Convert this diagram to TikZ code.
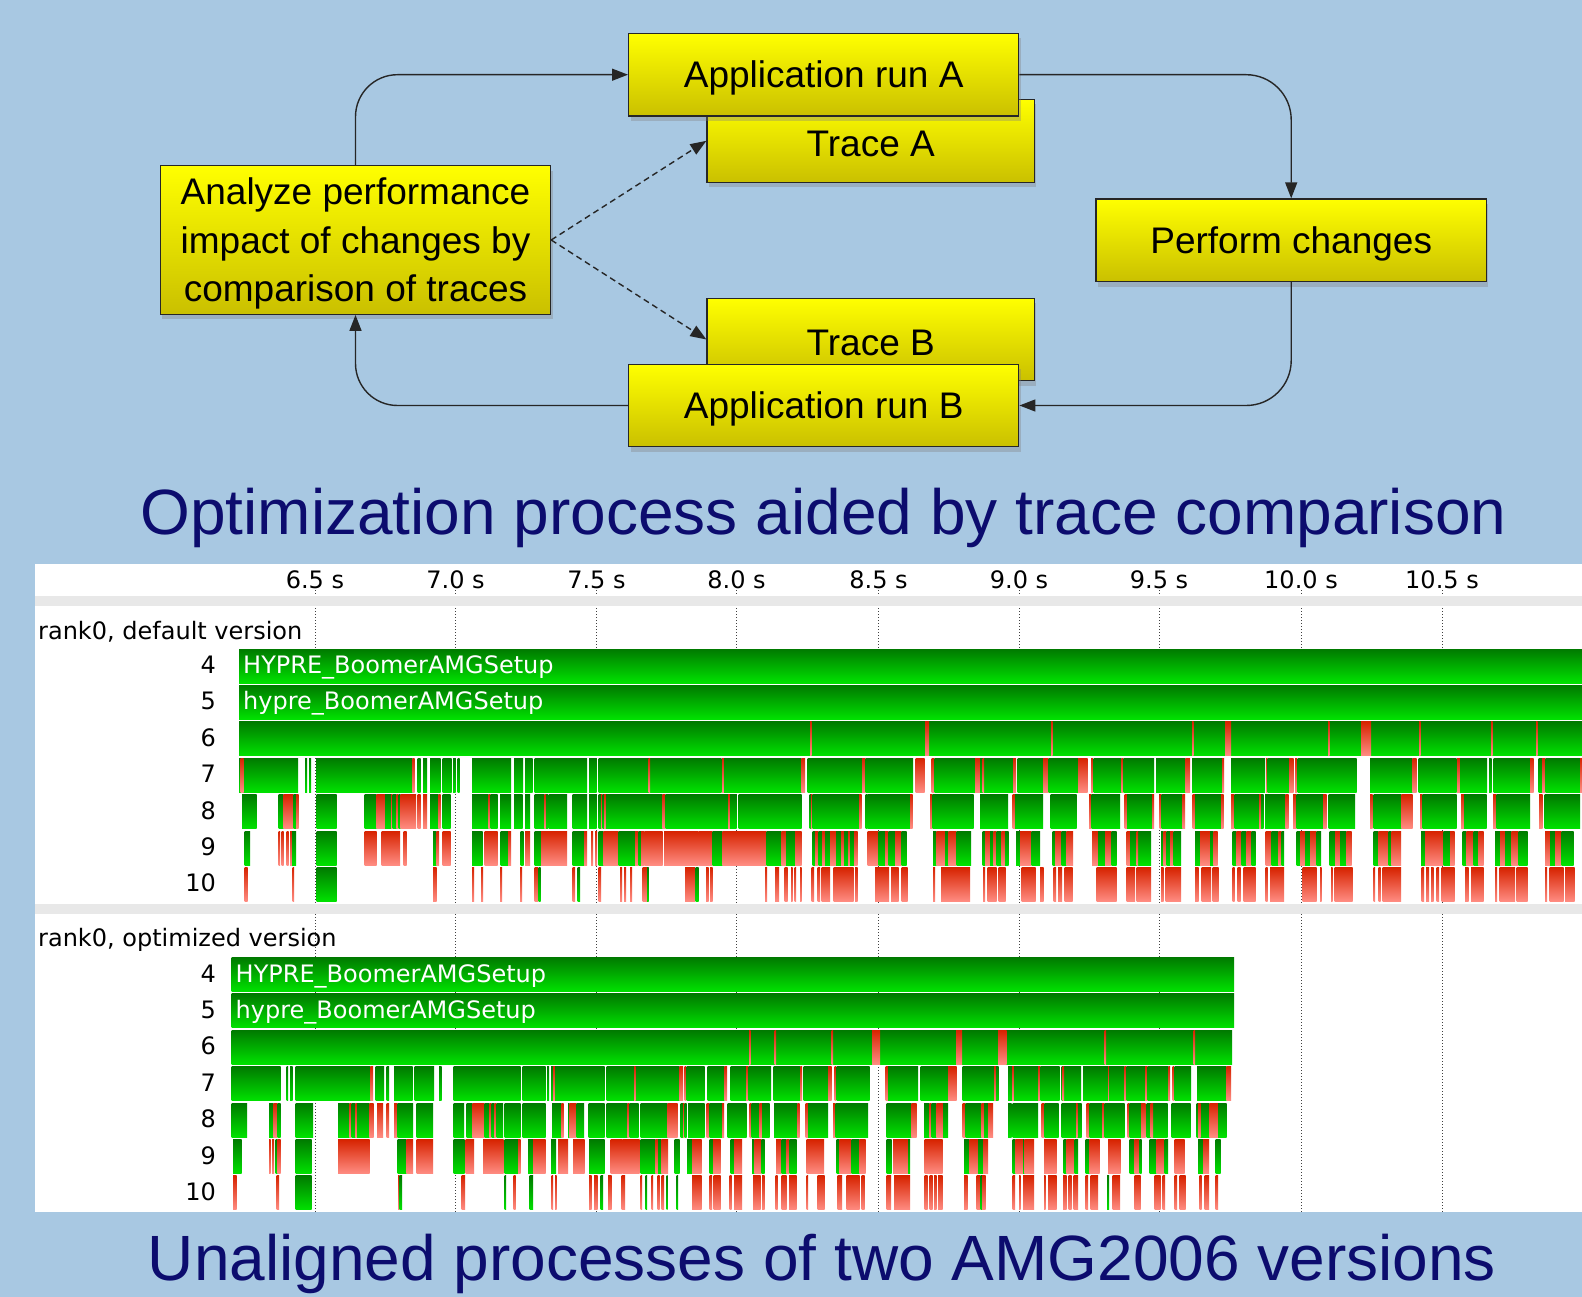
\documentclass[tikz,border=0pt]{standalone}
\usepackage{fontspec}
\newfontfamily\bfnt{Liberation Sans}
\newfontfamily\tfnt{DejaVu Sans}
\usetikzlibrary{arrows.meta,shadows}
\definecolor{bgc}{RGB}{168,200,226}
\definecolor{ttl}{RGB}{12,12,110}
\definecolor{yT}{RGB}{255,255,0}
\definecolor{yB}{RGB}{202,192,0}
\definecolor{gT}{RGB}{0,122,0}
\definecolor{gB}{RGB}{0,226,0}
\definecolor{rT}{RGB}{215,35,0}
\definecolor{rB}{RGB}{255,140,130}
\definecolor{band}{RGB}{232,232,232}
\newcommand\barrow[2]{\foreach \xa/\xb/\cc in {#2}{\shade[top color=\cc T,bottom color=\cc B] (\xa,#1) rectangle (\xb,#1+34);}}
\newcommand\lowr[1]{\raisebox{-3.5pt}[\height][\depth]{#1}}
\tikzset{
  ybox/.style={draw=black!85,line width=1.2pt,top color=yT,bottom color=yB,inner sep=0pt,align=center,
    font=\bfnt\fontsize{37}{48.5}\selectfont,drop shadow={shadow xshift=2pt,shadow yshift=-5pt,opacity=0.35}},
  conn/.style={draw=black!85,line width=1.4pt,-{Triangle[length=16pt,width=12pt]}},
  dconn/.style={conn,dash pattern=on 6pt off 4pt},
  ttlfont/.style={text=ttl,font=\bfnt\fontsize{64}{70}\selectfont,inner sep=0pt},
  trl/.style={font=\tfnt\fontsize{24}{26}\selectfont,inner sep=0pt},
  tick/.style={black!75,line width=1pt,dash pattern=on 1pt off 2pt}
}
\begin{document}
\begin{tikzpicture}[x=1pt,y=-1pt]
\useasboundingbox (0,0) rectangle (1582,1297);
\fill[bgc] (0,0) rectangle (1582,1297);
% ---------------- diagram
\node[ybox,minimum width=327.4pt,minimum height=83pt] (trA) at (870.7,140.8) {\lowr{Trace A}};
\node[ybox,minimum width=390.2pt,minimum height=82.7pt] (appA) at (823.7,74.7) {\lowr{Application run A}};
\node[ybox,minimum width=327.4pt,minimum height=82.4pt] (trB) at (870.7,339.5) {\lowr{Trace B}};
\node[ybox,minimum width=390.2pt,minimum height=82.4pt] (appB) at (823.7,405.5) {\lowr{Application run B}};
\node[ybox,minimum width=390.5pt,minimum height=82.7pt] (pc) at (1291.2,240.3) {\lowr{Perform changes}};
\node[ybox,minimum width=390.2pt,minimum height=148.6pt] (an) at (355.5,240) {\lowr{\begin{tabular}{@{}c@{}}Analyze performance\\impact of changes by\\comparison of traces\end{tabular}}};
\draw[conn,rounded corners=42pt] (an.north) |- (appA.west);
\draw[conn,rounded corners=45pt] (appA.east) -| (pc.north);
\draw[conn,rounded corners=45pt] (pc.south) |- (appB.east);
\draw[conn,rounded corners=42pt] (appB.west) -| (an.south);
\draw[dconn] (an.east) -- (trA.west);
\draw[dconn] (an.east) -- (trB.west);
\node[ttlfont] (t1) at (823.5,518) {Optimization process aided by trace comparison};
\node[ttlfont] (t2) at (822,1264) {Unaligned processes of two AMG2006 versions};
% ---------------- trace panel
\fill[white] (34.6,564) rectangle (1582,1212);
\foreach \x in {315,455.6,596.4,736.5,878.6,1019,1159,1301,1442}{\draw[tick] (\x,590) -- (\x,1212);}
\fill[band] (34.6,596) rectangle (1582,606);
\fill[band] (34.6,904) rectangle (1582,914);
\foreach \x/\t in {315/6.5,455.6/7.0,596.4/7.5,736.5/8.0,878.6/8.5,1019/9.0,1159/9.5,1301/10.0,1442/10.5}{\node[trl] at (\x,580) {\t\ s};}
\node[trl,anchor=base west] (lab1) at (38,639) {rank0, default version};
\node[trl,anchor=base west] (lab2) at (38,946.5) {rank0, optimized version};
\foreach \r/\tp in {4/649,5/685.4,6/721.8,7/758.2,8/794.6,9/831,10/867.4}{\node[trl,anchor=base east] at (216,\tp+24.5) {\r};}
\foreach \r/\tp in {4/957.5,5/993.9,6/1030.3,7/1066.7,8/1103.1,9/1139.5,10/1175.9}{\node[trl,anchor=base east] at (216,\tp+24.5) {\r};}
% default version
\barrow{649}{239/1582/g}
\barrow{685.4}{239/1582/g}
\node[trl,text=white,anchor=base west] at (243,673.5) {HYPRE\_BoomerAMGSetup};
\node[trl,text=white,anchor=base west] at (243,709.9) {hypre\_BoomerAMGSetup};
\barrow{721.8}{239/1582/g,810/811.5/r,925/929/r,1051/1052.5/r,1192/1193.5/r,1225/1231/r,1328/1329.5/r,1361/1371/r,1419/1420.5/r,1491/1492.5/r,1536/1537.5/r}
\barrow{758.2}{239/298/g,240.5/243.5/r,305/307/g,309/311/g,316/412.5/g,412.5/414.5/r,417.5/420.5/g,423/427/g,430/440.5/g,442.5/451.5/g,453/455.5/g,457.5/459.5/g,472/511/g,514/523/g,525/532.5/g,534.5/587/g,589/596.5/g,598.5/721.5/g,648.5/650/r,722/724/r,724/801.5/g,801.5/805/r,807.5/862/g,862/865.5/r,865.5/913/g,915.5/924.5/r,931.5/934.5/r,934.5/975/g,975/980/r,980/1013/g,982.5/984/r,1013/1016/r,1017.5/1043/g,1043/1048.5/r,1048.5/1078/g,1078/1087.5/r,1091/1093/r,1093.5/1121.5/g,1121.5/1123.5/r,1123.5/1154/g,1156/1185.5/g,1185.5/1190/r,1192/1222/g,1222/1224/r,1231/1265/g,1266/1267.5/r,1267.5/1289/g,1289/1293.5/r,1295/1297/r,1297.5/1356.5/g,1370/1412.5/g,1412.5/1416.5/r,1418.5/1456.5/g,1457/1460/r,1460/1487/g,1489/1491.5/g,1493.5/1530/g,1530/1533.5/r,1538.5/1542/g,1542/1545.5/r,1545.5/1580/g,1580/1582/r}
\barrow{794.6}{242/256.5/g,278.5/283.5/g,283.5/293.5/r,293.5/296/g,296/298.5/r,316.5/336.5/g,364.5/376.5/g,376.5/385/r,385/391/g,391/392.5/r,392.5/396.5/g,396.5/398.5/r,398.5/400.5/g,400.5/416/r,417.5/420.5/r,423/427/r,430/438.5/g,438.5/440.5/r,442.5/450.5/g,472/488.5/g,488.5/490.5/r,490.5/497.5/g,500/511/g,514/522.5/g,525/530/g,534.5/544.5/g,544.5/546/r,546/548/g,548.5/567/g,572.5/587/g,589/596.5/g,598.5/601/g,601/602.5/r,602.5/604/g,604/606/r,606/662.5/g,662.5/665.5/r,665.5/728/g,728/730/r,730/736.5/g,738.5/801.5/g,809.5/811.5/g,811/812.5/r,812.5/859/g,859/861.5/r,865.5/867.5/g,867.5/910/g,910/912.5/r,930/932.5/r,932.5/973.5/g,980/1008/g,1012.5/1015/r,1015/1043/g,1050.5/1076.5/g,1089/1091.5/r,1091.5/1120/g,1124.5/1127/r,1127/1152/g,1152/1154/r,1159.5/1161.5/r,1161.5/1182.5/g,1182.5/1185/r,1192.5/1195/r,1195/1221/g,1221/1223.5/r,1231/1234.5/r,1234.5/1259/g,1259/1261/r,1261/1263.5/g,1265/1285.5/g,1285.5/1288.5/r,1293/1296.5/r,1296.5/1323/g,1323/1326.5/r,1328.5/1355/g,1370/1372.5/r,1373.5/1401.5/g,1401.5/1412.5/r,1420/1422.5/r,1422.5/1456.5/g,1461/1464/r,1464/1486.5/g,1493/1496.5/r,1496.5/1530/g,1539/1542.5/r,1544.5/1580/g}
\barrow{831}{244.5/250/g,278.5/280/r,281.5/283.5/r,286.5/288.5/r,290/292/r,292/296/g,316.5/336.5/g,364.5/376.5/r,381.5/400/r,403.5/406.5/r,433/436.5/g,436.5/439/r,442.5/450.5/r,472/482.5/g,484.5/497.5/r,500.5/508/g,508/511/r,520.5/523.5/g,525/530/r,534.5/541/g,541/567/r,572.5/584/g,584/587/r,591/593/r,595/597/r,598.5/603.5/g,603.5/618.5/r,618.5/635/g,635/638.5/r,638.5/641/g,641/644.5/r,644.5/662.5/r,664/698.5/r,698.5/712.5/r,712.5/722.5/g,722.5/766.5/r,766.5/781.5/g,781.5/786/r,786/795/g,795/801.5/r,812.5/815/g,815/818.5/r,818.5/822/g,822/825/r,825/830/g,830/836/r,836/841/g,841/844/r,844/848/g,848/850/r,850/854/g,854/857.5/r,867.5/878.5/r,878.5/885/g,885/888.5/r,888.5/895/g,895/901.5/r,901.5/906.5/g,933/936.5/g,936.5/945/r,945/948.5/g,948.5/956.5/r,956.5/971/g,982.5/985/g,985/990/r,990/993.5/g,993.5/996.5/r,996.5/1001.5/g,1001.5/1005/r,1005/1008.5/g,1016/1020/g,1020/1031.5/r,1031.5/1040/g,1052.5/1055/g,1055/1061.5/r,1061.5/1066.5/g,1066.5/1073/r,1092/1098/r,1098/1105/g,1105/1111.5/r,1111.5/1116.5/g,1126.5/1130/r,1130/1135/g,1135/1151/g,1136.5/1138/r,1161/1163.5/g,1163.5/1166.5/r,1166.5/1170/g,1170/1173.5/r,1173.5/1181/g,1195/1200/g,1200/1210/r,1210/1213.5/g,1213.5/1217.5/r,1232.5/1236.5/g,1236.5/1241.5/r,1241.5/1246.5/g,1246.5/1251.5/r,1251.5/1255.5/g,1265.5/1271.5/r,1271.5/1278.5/g,1278.5/1281.5/r,1281.5/1284/g,1296.5/1300/g,1300/1305/r,1305/1310/g,1310/1316.5/r,1316.5/1321/g,1329.5/1335/g,1335/1340/r,1340/1346.5/g,1346.5/1351.5/r,1373.5/1378.5/g,1378.5/1388.5/r,1388.5/1391.5/g,1391.5/1401/r,1421/1425/g,1425/1443.5/r,1443.5/1450/g,1450/1454.5/r,1462.5/1466.5/g,1466.5/1473.5/r,1473.5/1478.5/g,1478.5/1483.5/r,1495/1500/g,1500/1505/r,1505/1511.5/g,1511.5/1518.5/r,1518.5/1527.5/g,1545/1550/r,1550/1555/g,1555/1561.5/r,1561.5/1573.5/g}
\barrow{867.4}{244.5/247.5/r,292.5/294/r,316.5/336.5/g,433/436.5/r,472/474/r,481/483/r,500/502/r,520/522/r,534.5/538/r,538.5/540.5/g,572.5/575/r,577.5/580/g,598.5/601/r,620/622/r,624/626/r,630/632/r,642.5/648.5/r,647/648.5/g,685/695/r,695.5/698.5/g,706/708.5/r,710/712.5/r,765/767/r,775/779/r,784.5/787.5/r,791/792.5/r,794.5/796/r,800/801.5/r,811.5/814/r,817.5/820/r,821.5/830/r,833.5/853.5/r,855/857.5/r,875/889/r,891/898.5/r,901.5/907.5/r,933/935/r,941/970/r,983/985/r,987.5/996.5/r,998.5/1005.5/r,1021.5/1035.5/r,1040/1043.5/r,1053.5/1056/r,1058/1062/r,1064.5/1072.5/r,1096.5/1116.5/r,1126.5/1135/r,1136.5/1151/r,1161/1163.5/r,1165.5/1181/r,1195/1198.5/r,1201.5/1211/r,1212.5/1218.5/r,1232.5/1234.5/r,1237.5/1240.5/r,1243.5/1255.5/r,1265.5/1267.5/r,1270/1284/r,1302.5/1316.5/r,1320/1321.5/r,1331/1332.5/r,1334.5/1352.5/r,1373.5/1375/r,1378.5/1380.5/r,1382.5/1401/r,1421.5/1424/r,1426/1429/r,1431/1433.5/r,1436.5/1439/r,1441.5/1454.5/r,1465/1468.5/r,1471/1483.5/r,1495/1497/r,1499.5/1515/r,1516.5/1527.5/r,1545/1547/r,1549.5/1563.5/r,1565/1574.5/r}
% optimized version
\barrow{957.5}{231.5/1234/g}
\barrow{993.9}{231.5/1234/g}
\node[trl,text=white,anchor=base west] at (235.5,982) {HYPRE\_BoomerAMGSetup};
\node[trl,text=white,anchor=base west] at (235.5,1018.4) {hypre\_BoomerAMGSetup};
\barrow{1030.3}{231.5/1232/g,749/750.5/r,774.5/776/r,831.5/833/r,872/880/r,956/962/r,998/1006.5/r,1104.5/1106/r,1193.5/1195/r}
\barrow{1066.7}{231.5/280.5/g,286.5/288/g,290/292.5/g,295.5/370.5/g,370.5/373/r,375.5/384/g,386.5/389/g,394/412.5/g,414.5/434/g,439/441.5/g,453.5/520.5/g,522.5/545.5/g,547/549/g,551/553/g,553/555/r,555/604.5/g,606.5/679.5/g,634/635.5/r,679.5/683/r,684.5/686/r,686.5/704.5/g,707.5/724.5/g,724.5/727/r,730.5/746/g,746/748.5/r,748.5/771/g,773.5/800.5/g,800.5/802/r,803.5/828/g,828/831.5/r,834.5/836/r,836.5/869.5/g,885.5/888/r,888/918/g,920.5/948/g,948/956.5/r,962.5/994/g,994/996/r,996/998.5/g,1008/1012/g,1012/1014/r,1014/1038/g,1038/1040.5/r,1040.5/1059.5/g,1061.5/1081/g,1062.5/1064/r,1083/1108/g,1108/1109/r,1109/1124.5/g,1124.5/1126.5/r,1126.5/1145/g,1145/1147.5/r,1147.5/1168.5/g,1168.5/1170/r,1172.5/1174/r,1174.5/1191/g,1197/1226.5/g,1226.5/1231/r}
\barrow{1103.1}{231.5/247/g,269/273.5/g,273.5/277.5/r,277.5/280.5/g,295.5/313/g,338/349.5/g,349.5/351.5/r,351.5/355.5/g,355.5/357/r,357/369.5/g,369.5/373.5/r,377/383/r,386.5/389/r,394/397.5/r,397.5/413/g,416.5/433/g,453.5/464/g,466.5/472.5/g,472.5/484.5/r,484.5/489.5/g,489.5/491.5/r,491.5/494.5/g,494.5/496.5/r,496.5/503/g,504.5/520.5/g,522.5/545.5/g,552/561.5/g,561.5/563.5/r,568/569.5/g,569.5/576.5/r,576.5/584/g,588.5/604.5/g,606.5/627.5/g,627.5/629.5/r,629.5/638.5/g,640.5/667.5/g,667.5/677.5/r,680.5/683/g,683/684.5/r,684.5/686.5/g,688/704.5/g,706.5/709.5/r,709.5/722/g,722/724/r,727.5/746.5/g,749.5/751.5/r,751.5/759.5/g,759.5/762/r,762/769.5/g,774/797.5/g,797.5/799.5/r,805.5/808/r,808/828/g,833/835.5/r,835.5/868/g,886.5/911.5/g,911.5/916.5/r,924/929.5/g,929.5/931.5/r,931.5/936.5/g,936.5/943/r,943/948/g,962.5/965.5/r,965.5/981.5/g,981.5/984/r,984/988/g,988/993/r,1008/1011.5/g,1012.5/1038/g,1041.5/1044.5/r,1044.5/1058.5/g,1061.5/1081.5/g,1076/1077.5/r,1086.5/1089.5/r,1089.5/1102/g,1102/1104.5/r,1104.5/1124.5/g,1127.5/1129.5/r,1129.5/1141/g,1141/1145.5/r,1146.5/1167.5/g,1150.5/1153/r,1171.5/1190.5/g,1196.5/1209.5/g,1198/1200.5/r,1209.5/1218/r,1218/1226.5/g}
\barrow{1139.5}{233/241.5/g,269/270.5/r,272/274/r,275.5/277.5/g,277.5/280.5/r,295.5/311.5/g,338/369.5/r,397.5/406.5/g,406.5/413/r,416.5/433/r,453.5/464.5/g,465.5/474/r,483/503.5/r,504.5/518/g,518/520.5/r,528/533/g,533/545.5/r,551/556/g,558/568/r,573/584.5/r,589/604.5/g,610.5/622.5/r,622.5/639.5/r,640.5/655.5/g,655.5/658/r,658/661.5/g,661.5/668/r,674.5/679.5/g,687/692/g,692/701.5/r,709.5/713/g,713/720.5/r,730.5/734/g,734/742/r,752/754.5/g,754.5/761.5/r,761.5/764.5/g,776/781.5/r,781.5/786.5/g,786.5/789.5/r,789.5/796.5/g,806.5/824/r,836.5/839.5/g,839.5/851.5/r,851.5/859.5/g,859.5/865.5/r,886.5/891.5/g,893/908/r,908/910/g,924.5/942.5/r,964/969.5/g,969.5/978/r,978/983/g,983/988/r,1012.5/1015.5/g,1015.5/1023/r,1023/1024.5/g,1024.5/1034/r,1044/1056.5/r,1063.5/1066.5/g,1066.5/1074.5/r,1074.5/1078/g,1085.5/1089.5/g,1089.5/1099.5/r,1108/1120.5/r,1129.5/1134.5/g,1134.5/1139.5/r,1139.5/1141.5/g,1149.5/1156.5/g,1156.5/1164.5/r,1164.5/1168/g,1174.5/1184.5/r,1198/1203/g,1203/1209/r,1215.5/1220.5/g}
\barrow{1175.9}{233/236.5/r,276.5/279/r,295.5/311.5/g,398/399.5/r,399.5/402/g,461.5/465/r,504.5/506/g,513.5/515.5/r,529.5/533/g,551.5/553/r,555/556.5/r,589/591.5/r,594/597.5/r,600.5/603/g,608/611.5/r,621.5/625/r,640.5/642/r,645.5/647/g,651.5/653/r,657.5/659.5/r,661.5/664/r,666.5/667.5/g,676.5/678/g,692/701.5/r,709.5/712/r,713.5/720.5/r,729.5/731.5/r,734/742/r,753/760.5/r,762/764.5/r,775.5/777.5/r,781.5/786.5/r,789/796.5/r,806.5/808/r,817.5/824.5/r,837.5/842/r,846.5/859.5/r,861.5/864.5/r,886.5/891/r,894/908/r,908/910/r,924.5/927.5/r,929.5/932.5/r,934/936.5/r,938/942.5/r,964/967.5/r,976.5/980.5/r,980.5/982/g,982/985.5/r,1012.5/1015/r,1019/1020.5/r,1023/1034/r,1044/1045.5/r,1048/1056.5/r,1063/1066.5/r,1068.5/1071.5/r,1073.5/1078/r,1085.5/1088/r,1090.5/1098/r,1107/1109/g,1112.5/1120/r,1134.5/1140.5/r,1154.5/1160.5/r,1162.5/1165/r,1174.5/1177/r,1179.5/1185.5/r,1199.5/1201.5/r,1204.5/1209/r,1215.5/1218/r}
\end{tikzpicture}
\end{document}
